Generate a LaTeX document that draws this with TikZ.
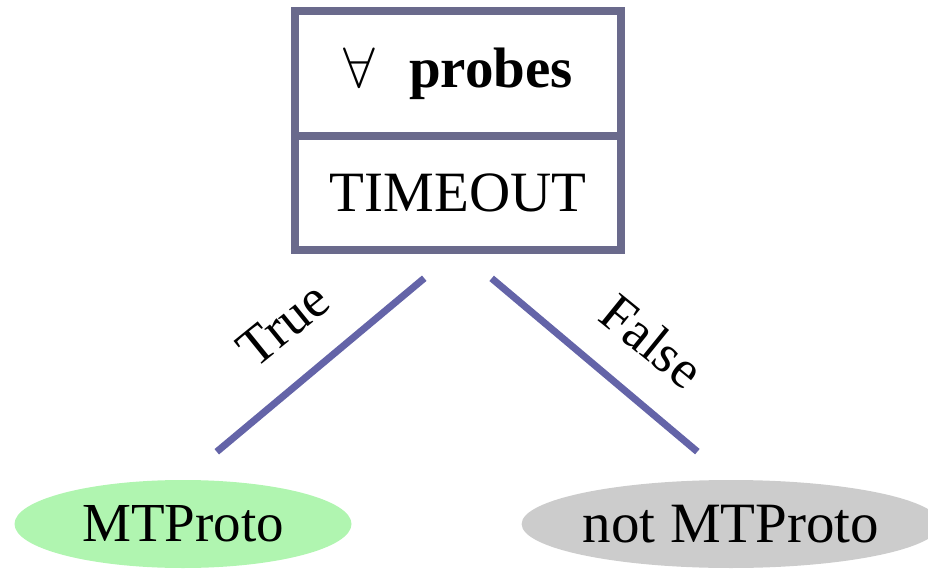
\RequirePackage{fix-cm}
\documentclass[tikz,border=0pt]{standalone}
\usepackage{fontspec}
\setmainfont{Liberation Serif}
\usetikzlibrary{shapes.geometric}
\definecolor{boxline}{RGB}{106,106,140}
\definecolor{edgeline}{RGB}{100,100,168}
\definecolor{leafgreen}{RGB}{176,245,176}
\definecolor{leafgray}{RGB}{204,204,204}
\tikzset{
  cell/.style={draw=boxline, line width=8pt, fill=white, minimum width=326pt,
    inner sep=0pt, outer sep=0pt, font=\fontsize{57}{62}\selectfont},
  leaf/.style={ellipse, inner sep=0pt, outer sep=0pt, minimum height=88pt},
  branch/.style={draw=edgeline, line width=7pt, shorten <=44pt, shorten >=44pt},
  branchlabel/.style={inner sep=0pt, font=\fontsize{54}{60}\selectfont}
}
\begin{document}
\begin{tikzpicture}[x=1pt, y=-1pt]
  \useasboundingbox (0,0) rectangle (928,569);
  % decision box: condition over test
  \node[cell, minimum height=125pt] (cond) at (458,73.5) {$\forall$\hspace{0.6em}\textbf{probes}};
  \node[cell, minimum height=114pt] (test) at (458,193) {TIMEOUT};
  % outcomes
  \node[leaf, fill=leafgreen, minimum width=337pt, font=\fontsize{55}{60}\selectfont] (yes) at (183,524) {MTProto};
  \node[leaf, fill=leafgray, minimum width=418pt, font=\fontsize{57}{62}\selectfont] (no) at (731,524) {not MTProto};
  % branches
  \draw[branch] (test.south) -- (yes.north);
  \draw[branch] (test.south) -- (no.north);
  \node[branchlabel, rotate=39] (tl) at (283,324) {True};
  \node[branchlabel, rotate=-39] (fl) at (652,341) {False};
\end{tikzpicture}
\end{document}
